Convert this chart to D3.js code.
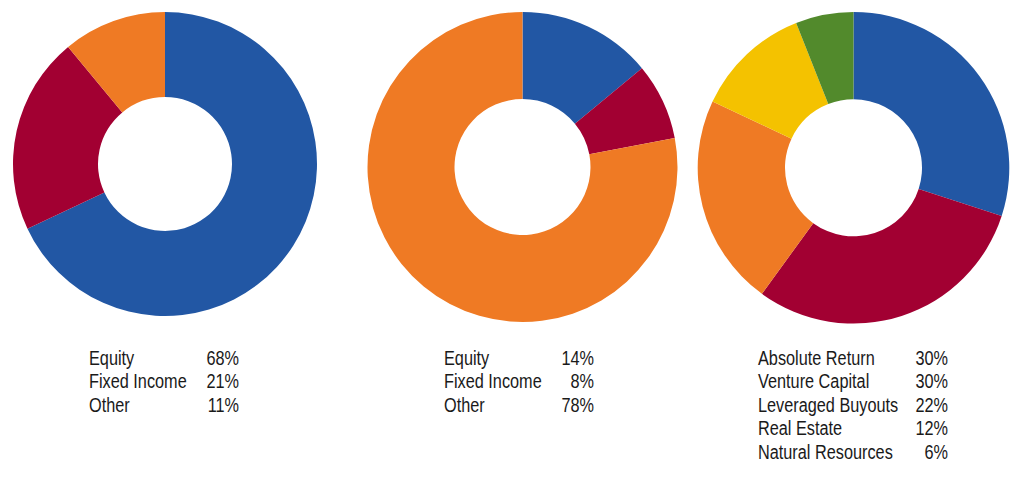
<!DOCTYPE html>
<html>
<head>
<meta charset="utf-8">
<script src="https://cdn.jsdelivr.net/npm/d3@7"></script>
<style>
html,body{margin:0;padding:0;background:#fff;}
svg{display:block;}
text{font-family:"Liberation Sans",Arial,sans-serif;fill:#1a1a1a;}
</style>
</head>
<body>
<svg id="chart" width="1024" height="482"></svg>
<script>
// ---- data ----
const labels1 = ["Equity", "Fixed Income", "Other"];
const values1 = [68, 21, 11];
const labels2 = ["Equity", "Fixed Income", "Other"];
const values2 = [14, 8, 78];
const labels3 = ["Absolute Return", "Venture Capital", "Leveraged Buyouts", "Real Estate", "Natural Resources"];
const values3 = [30, 30, 22, 12, 6];
const colors1 = ["#2257a4", "#a20032", "#ef7a24"];
const colors3 = ["#2257a4", "#a20032", "#ef7a24", "#f4c200", "#528a2c"];

// ---- layout ----
const charts = [
  {labels: labels1, values: values1, colors: colors1, cx: 165, cy: 164, r: 152, ir: 67, lx: 89, vx: 239},
  {labels: labels2, values: values2, colors: colors1, cx: 522.5, cy: 167, r: 155, ir: 68, lx: 444, vx: 594},
  {labels: labels3, values: values3, colors: colors3, cx: 853.5, cy: 167.8, r: 155.8, ir: 68.5, lx: 758, vx: 948}
];

const svg = d3.select("#chart");
const pie = d3.pie().sort(null).value(d => d);
const rowY = d3.scaleLinear().domain([0, 1]).range([365, 388.4]);
const fs = 19.5, sx = 0.835;

charts.forEach(c => {
  const arc = d3.arc().innerRadius(c.ir).outerRadius(c.r);
  const g = svg.append("g").attr("transform", `translate(${c.cx},${c.cy})`);
  g.selectAll("path").data(pie(c.values)).join("path")
    .attr("d", arc)
    .attr("fill", (d, i) => c.colors[i]);

  const lg = svg.append("g");
  c.labels.forEach((lab, i) => {
    const y = rowY(i);
    lg.append("text")
      .attr("transform", `translate(${c.lx},${y}) scale(${sx},1)`)
      .attr("font-size", fs)
      .text(lab);
    lg.append("text")
      .attr("transform", `translate(${c.vx},${y}) scale(${sx},1)`)
      .attr("font-size", fs)
      .attr("text-anchor", "end")
      .text(c.values[i] + "%");
  });
});
</script>
</body>
</html>
